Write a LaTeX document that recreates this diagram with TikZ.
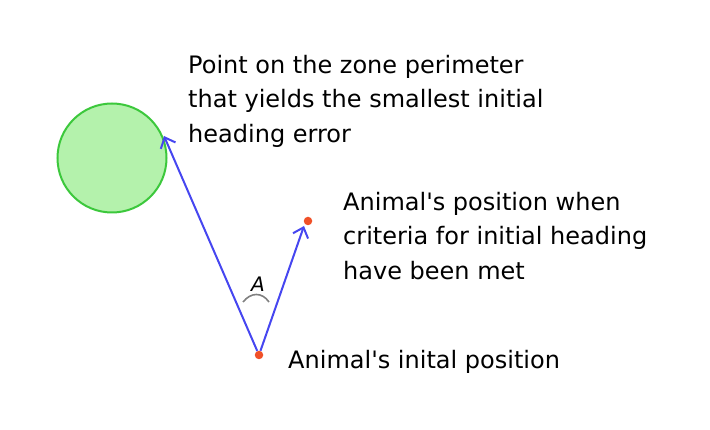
\documentclass[tikz,border=0pt]{standalone}
\usepackage{fontspec}
\setmainfont{DejaVu Sans}
\usepackage{tikz}
\usetikzlibrary{arrows.meta}
\definecolor{ZoneFill}{HTML}{B4F2AC}
\definecolor{ZoneLine}{HTML}{3CC83C}
\definecolor{PathBlue}{HTML}{4646F0}
\definecolor{DotRed}{HTML}{F05028}
\definecolor{AngleGray}{HTML}{808080}

\begin{document}
\begin{tikzpicture}[x=1pt,y=-1pt,
          heading/.style={draw=PathBlue,line width=2pt,
            -{Straight Barb[length=9pt,width=16pt,line width=2pt]}},
          spot/.style={circle,fill=DotRed,minimum size=8.5pt,inner sep=0pt},
          note/.style={font=\fontsize{24}{34.5}\selectfont,align=left,
            anchor=north west,inner sep=0pt}
        ]
        \useasboundingbox (0,0) rectangle (710,430);
        \node[circle,draw=ZoneLine,fill=ZoneFill,line width=2pt,
          minimum size=109pt,inner sep=0pt] (zone) at (112,158) {};
        \coordinate (edge) at (164,136);
        \coordinate (near) at (304,226);
        \node[spot] (start) at (259,355) {};
        \node[spot] (met) at (308,221) {};
        \draw[heading] (start) -- (edge);
        \draw[heading] (start) -- (near);
        \draw[AngleGray,line width=1.6pt] (243,302) .. controls (251,292) and (262,292) .. (269,302);
        \node[font=\fontsize{20}{22}\selectfont] (angle) at (258,284) {\itshape A};
        \node[note] (zonetext) at (188,55)
          {Point on the zone perimeter\\that yields the smallest initial\\heading error};
        \node[note] (mettext) at (343,192)
          {Animal\textquotesingle s position when\\criteria for initial heading\\have been met};
        \node[note] (starttext) at (288,350) {Animal\textquotesingle s inital position};
      \end{tikzpicture}
\end{document}
